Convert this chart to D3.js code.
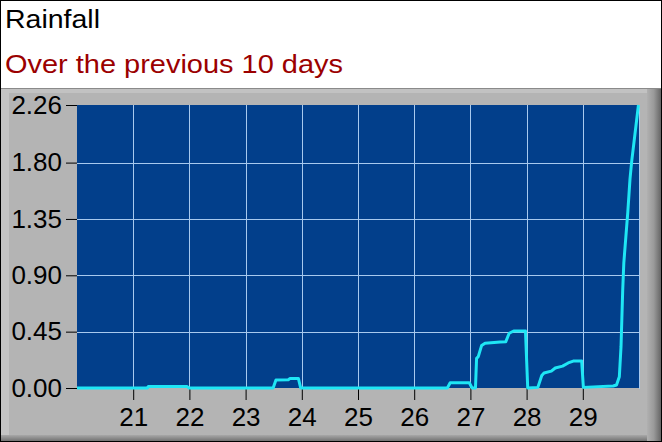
<!DOCTYPE html>
<html>
<head>
<meta charset="utf-8">
<script src="https://cdn.jsdelivr.net/npm/d3@7/dist/d3.min.js"></script>
<style>
  html, body { margin: 0; padding: 0; background: #fff; }
  svg { display: block; font-family: "Liberation Sans", Arial, sans-serif; }
</style>
</head>
<body>
<div id="chart"></div>
<script>
// Day of month (decimal) and rainfall total
const days = [20.0, 21.25, 21.27, 21.96, 21.99, 23.49, 23.54, 23.76, 23.79, 23.94, 23.98,
    26.59, 26.64, 26.98, 27.03, 27.09, 27.11, 27.14, 27.20, 27.26, 27.53, 27.63, 27.69,
    27.77, 27.98, 28.02, 28.20, 28.27, 28.31, 28.44, 28.51, 28.64, 28.74, 28.83, 28.98,
    29.01, 29.54, 29.60, 29.65, 29.68, 29.71, 29.73, 29.80, 29.84, 29.87, 29.99];
const rain = [0, 0, 0.012, 0.012, 0, 0, 0.064, 0.066, 0.075, 0.075, 0,
    0, 0.042, 0.042, 0, 0, 0.237, 0.25, 0.34, 0.357, 0.367, 0.37, 0.437,
    0.455, 0.455, 0, 0.005, 0.10, 0.12, 0.135, 0.16, 0.175, 0.20, 0.215, 0.215,
    0.005, 0.016, 0.024, 0.09, 0.33, 0.78, 1.0, 1.40, 1.67, 1.81, 2.26];

const xTicks = [21, 22, 23, 24, 25, 26, 27, 28, 29];
const yTicks = [0, 0.45, 0.90, 1.35, 1.80, 2.26];

const width = 662, height = 442;
const plot = { left: 77, right: 639, top: 105, bottom: 388 };

const svg = d3.select('#chart')
    .append('svg')
    .attr('width', width)
    .attr('height', height);

const defs = svg.append('defs');
const shadeR = defs.append('linearGradient').attr('id', 'shadeR');
shadeR.append('stop').attr('offset', '0%').attr('stop-color', '#b0b0b0');
shadeR.append('stop').attr('offset', '45%').attr('stop-color', '#9a9a9a');
shadeR.append('stop').attr('offset', '100%').attr('stop-color', '#5e5e5e');
const shadeB = defs.append('linearGradient').attr('id', 'shadeB')
    .attr('x1', 0).attr('y1', 0).attr('x2', 0).attr('y2', 1);
shadeB.append('stop').attr('offset', '0%').attr('stop-color', '#a8a8a8');
shadeB.append('stop').attr('offset', '100%').attr('stop-color', '#6a6a6a');

// Header
svg.append('rect').attr('width', width).attr('height', 88).attr('fill', '#fff');
svg.append('text')
    .attr('x', 5).attr('y', 28)
    .attr('textLength', 95).attr('lengthAdjust', 'spacingAndGlyphs')
    .style('font-size', '25px').style('fill', '#000')
    .text('Rainfall');
svg.append('text')
    .attr('x', 5).attr('y', 73)
    .attr('textLength', 338).attr('lengthAdjust', 'spacingAndGlyphs')
    .style('font-size', '25px').style('fill', '#9b0000')
    .text('Over the previous 10 days');

// Grey bevelled panel
svg.append('rect').attr('x', 0).attr('y', 88).attr('width', width).attr('height', height - 88).attr('fill', '#b4b4b4');
svg.append('rect').attr('x', 0).attr('y', 88).attr('width', width).attr('height', 5).attr('fill', '#c2c2c2');
svg.append('rect').attr('x', 0).attr('y', 88).attr('width', 9).attr('height', height - 88).attr('fill', '#c4c4c4');
svg.append('rect').attr('x', 647).attr('y', 88).attr('width', 15).attr('height', height - 88).attr('fill', 'url(#shadeR)');
svg.append('rect').attr('x', 0).attr('y', 435).attr('width', 647).attr('height', 7).attr('fill', 'url(#shadeB)');
svg.append('line').attr('x1', 0).attr('x2', width).attr('y1', 88.5).attr('y2', 88.5).attr('stroke', '#8a8a8a');

// Scales
const x = d3.scaleLinear().domain([20, 30]).range([plot.left, plot.right]);
const y = d3.scaleLinear().domain([0, 2.26]).range([plot.bottom, plot.top]);

// Plot area
svg.append('rect')
    .attr('x', plot.left).attr('y', plot.top)
    .attr('width', plot.right - plot.left).attr('height', plot.bottom - plot.top)
    .attr('fill', '#023f8b');

// Grid
svg.append('g').selectAll('line')
    .data(xTicks).enter().append('line')
    .attr('x1', d => Math.round(x(d)) + 0.5).attr('x2', d => Math.round(x(d)) + 0.5)
    .attr('y1', plot.top).attr('y2', plot.bottom)
    .attr('stroke', '#a8c9ee').attr('stroke-width', 1);
svg.append('g').selectAll('line')
    .data(yTicks.slice(1, -1)).enter().append('line')
    .attr('x1', plot.left).attr('x2', plot.right)
    .attr('y1', d => Math.round(y(d)) + 0.5).attr('y2', d => Math.round(y(d)) + 0.5)
    .attr('stroke', '#a8c9ee').attr('stroke-width', 1);
svg.append('line')
    .attr('x1', plot.right + 0.5).attr('x2', plot.right + 0.5)
    .attr('y1', plot.top).attr('y2', plot.bottom + 1)
    .attr('stroke', '#a8c9ee');

// Axes
const xAxis = svg.append('g')
    .attr('transform', `translate(0, ${plot.bottom})`)
    .call(d3.axisBottom(x).tickValues(xTicks).tickSize(12).tickPadding(8).tickFormat(d3.format('d')));
const yAxis = svg.append('g')
    .attr('transform', `translate(${plot.left}, 0)`)
    .call(d3.axisLeft(y).tickValues(yTicks).tickSize(11).tickPadding(4).tickFormat(d => d.toFixed(2)));

[xAxis, yAxis].forEach(a => {
    a.select('.domain').remove();
    a.selectAll('line').attr('stroke', '#000');
    a.selectAll('text')
        .style('font-size', '26px')
        .style('fill', '#000')
        .style('font-family', '"Liberation Sans", Arial, sans-serif');
});

// Rain line
const line = d3.line()
    .x((d, i) => x(days[i]))
    .y(d => y(d));
svg.append('path')
    .datum(rain)
    .attr('d', line)
    .attr('fill', 'none')
    .attr('stroke', '#1fe6f5')
    .attr('stroke-width', 3)
    .attr('stroke-linejoin', 'round');

// Outer border
svg.append('rect')
    .attr('x', 0.5).attr('y', 0.5)
    .attr('width', width - 1).attr('height', height - 1)
    .attr('fill', 'none').attr('stroke', '#000');
</script>
</body>
</html>
